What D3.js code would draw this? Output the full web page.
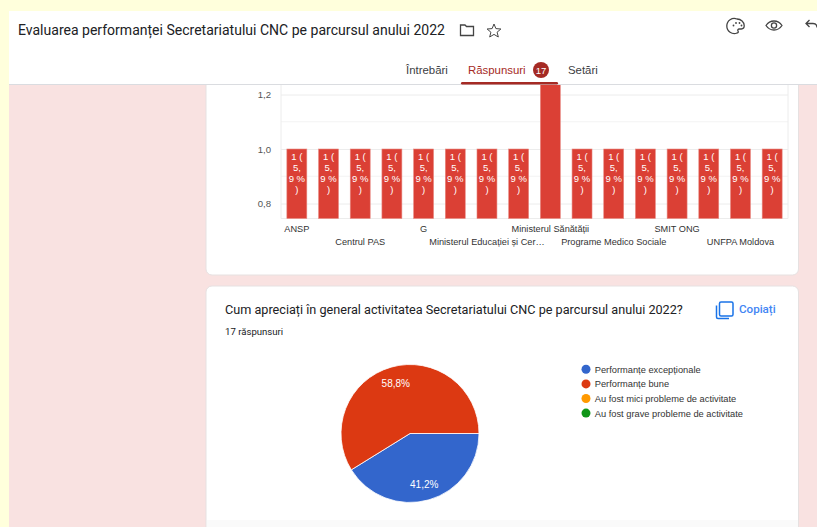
<!DOCTYPE html>
<html>
<head>
<meta charset="utf-8">
<script src="https://cdn.jsdelivr.net/npm/d3@7"></script>
<style>
  html, body { margin: 0; padding: 0; background: #ffffdc; overflow: hidden; }
  svg { display: block; }
  text { font-family: "Liberation Sans", Arial, sans-serif; }
</style>
</head>
<body>
<svg id="chart" width="817" height="527"></svg>
<script>
// bar chart: only every second category label is shown by the chart
const barCategories = ['ANSP', '', 'Centrul PAS', '', 'G', '', 'Ministerul Educației și Cer…', '',
  'Ministerul Sănătății', '', 'Programe Medico Sociale', '', 'SMIT ONG', '', 'UNFPA Moldova', '']
const barValues = [1, 1, 1, 1, 1, 1, 1, 1, 2, 1, 1, 1, 1, 1, 1, 1]
const barLabelLines = ['1 (', '5,', '9 %', ')']
const yTicks = [0.8, 1.0, 1.2]
const yMinorTicks = [0.9, 1.1]

// pie chart
const pieLabels = ['Performanțe excepționale', 'Performanțe bune', 'Au fost mici probleme de activitate', 'Au fost grave probleme de activitate']
const pieValues = [7, 10, 0, 0]
const pieColors = ['#3366cc', '#dc3912', '#ff9900', '#109618']

const svg = d3.select('#chart')

// page background
svg.append('rect').attr('x', 9).attr('y', 11).attr('width', 808).attr('height', 516).attr('fill', '#f9e2e1')

function card(y, h) {
  svg.append('rect')
    .attr('x', 206).attr('y', y).attr('width', 592.5).attr('height', h).attr('rx', 6)
    .attr('fill', '#fff').attr('stroke', '#e6e1e1').attr('stroke-width', 1)
}
card(40, 235)
card(286, 260)
svg.append('rect').attr('x', 207).attr('y', 520).attr('width', 591).attr('height', 7).attr('fill', '#fafafa')

// bars
const x = d3.scaleBand().domain(d3.range(barCategories.length)).range([281, 788]).paddingInner(0.37).paddingOuter(0.185)
const y = d3.scaleLinear().domain([0.8, 1.0]).range([203.5, 149])
const baseY = 218.5

const barChart = svg.append('g')

barChart.append('g').selectAll('line')
  .data(yMinorTicks)
  .join('line')
  .attr('x1', 281).attr('x2', 788)
  .attr('y1', d => y(d)).attr('y2', d => y(d))
  .attr('stroke', '#f3f3f3')

const yAxis = barChart.append('g')
  .attr('transform', 'translate(281,0)')
  .call(d3.axisLeft(y).tickValues(yTicks).tickSize(-507).tickPadding(10).tickFormat(d => d3.format('.1f')(d).replace('.', ',')))
yAxis.select('.domain').remove()
yAxis.selectAll('line').attr('stroke', '#ececec')
yAxis.selectAll('text').attr('font-size', 9.6).attr('fill', '#555').style('font-family', '"Liberation Sans", Arial, sans-serif')

barChart.append('line').attr('x1', 281).attr('x2', 281).attr('y1', 85).attr('y2', baseY).attr('stroke', '#ececec')
barChart.append('line').attr('x1', 788).attr('x2', 788).attr('y1', 85).attr('y2', baseY).attr('stroke', '#ececec')
barChart.append('line').attr('x1', 281).attr('x2', 788).attr('y1', baseY).attr('y2', baseY).attr('stroke', '#ececec')

barChart.append('g').selectAll('rect')
  .data(barValues)
  .join('rect')
  .attr('x', (d, i) => x(i))
  .attr('width', x.bandwidth())
  .attr('y', d => Math.max(y(d), 80))
  .attr('height', d => baseY - Math.max(y(d), 80))
  .attr('fill', '#db4035')
  .attr('stroke', '#e88a83')
  .attr('stroke-width', 0.6)

barValues.forEach((v, i) => {
  if (v !== 1) return
  barChart.append('g').selectAll('text')
    .data(barLabelLines)
    .join('text')
    .attr('x', x(i) + x.bandwidth() / 2)
    .attr('y', (d, k) => y(v) + 10.5 + k * 11)
    .attr('text-anchor', 'middle')
    .attr('font-size', 9.5)
    .attr('fill', '#fff')
    .text(d => d)
})

const xAxis = barChart.append('g')
  .attr('transform', `translate(0,${baseY})`)
  .call(d3.axisBottom(x).tickSize(0).tickFormat(i => barCategories[i]))
xAxis.select('.domain').remove()
xAxis.selectAll('text')
  .attr('y', (d, i) => i % 4 === 0 ? 13 : 26)
  .attr('dy', 0)
  .attr('font-size', 9.2)
  .attr('fill', '#333')
  .style('font-family', '"Liberation Sans", Arial, sans-serif')

// pie
const pie = d3.pie().sort(null).startAngle(Math.PI / 2).endAngle(Math.PI * 2.5)
const arc = d3.arc().innerRadius(0).outerRadius(69)
const labelArc = d3.arc().innerRadius(52).outerRadius(52)
const pieG = svg.append('g').attr('transform', 'translate(410,433.5)')
const slices = pie(pieValues).filter(d => d.value > 0)

pieG.selectAll('path')
  .data(slices)
  .join('path')
  .attr('d', arc)
  .attr('fill', d => pieColors[d.index])
  .attr('stroke', '#fff')
  .attr('stroke-width', 0.8)

pieG.selectAll('text')
  .data(slices)
  .join('text')
  .attr('transform', d => `translate(${labelArc.centroid(d)})`)
  .attr('dy', '0.4em')
  .attr('text-anchor', 'middle')
  .attr('font-size', 10)
  .attr('fill', '#fff')
  .text(d => d3.format('.1f')(d.value / d3.sum(pieValues) * 100).replace('.', ',') + '%')

const legend = svg.append('g').selectAll('g')
  .data(pieLabels)
  .join('g')
  .attr('transform', (d, i) => `translate(586,${369.3 + i * 14.6})`)
legend.append('circle').attr('r', 4.5).attr('fill', (d, i) => pieColors[i])
legend.append('text').attr('x', 8.7).attr('y', 3.4).attr('font-size', 9.3).attr('fill', '#333').text(d => d)

// question text
svg.append('text').attr('x', 225).attr('y', 314).attr('font-size', 12.65).attr('fill', '#202124')
  .style('font-family', 'Roboto').text('Cum apreciați în general activitatea Secretariatului CNC pe parcursul anului 2022?')
svg.append('text').attr('x', 225).attr('y', 335).attr('font-size', 9.6).attr('fill', '#202124')
  .style('font-family', 'Roboto').text('17 răspunsuri')
svg.append('text').attr('x', 739).attr('y', 313).attr('font-size', 11.6).attr('font-weight', 500).attr('fill', '#4285f4')
  .style('font-family', 'Roboto').text('Copiați')
svg.append('path')
  .attr('d', 'M721 302h10.5a1.5 1.5 0 0 1 1.5 1.5v11a1.5 1.5 0 0 1-1.5 1.5H721a1.5 1.5 0 0 1-1.5-1.5v-11A1.5 1.5 0 0 1 721 302zM716.5 305.5v11.5a1.5 1.5 0 0 0 1.5 1.5h11')
  .attr('fill', 'none').attr('stroke', '#1a73e8').attr('stroke-width', 1.5)

// header on top of the scrolled bar chart
svg.append('rect').attr('x', 9).attr('y', 11).attr('width', 808).attr('height', 73).attr('fill', '#fff')
svg.append('line').attr('x1', 9).attr('x2', 817).attr('y1', 84.5).attr('y2', 84.5).attr('stroke', '#dadce0')
svg.append('text').attr('x', 18).attr('y', 35).attr('font-size', 15).attr('fill', '#202124')
  .attr('textLength', 427).attr('lengthAdjust', 'spacingAndGlyphs')
  .style('font-family', 'Roboto').text('Evaluarea performanței Secretariatului CNC pe parcursul anului 2022')

// folder, star, palette, eye, undo
const icons = svg.append('g').attr('fill', 'none').attr('stroke', '#444').attr('stroke-width', 1.3)
icons.append('path').attr('d', 'M460.5 25h4.5l1.5 1.5h7v9h-13z')
icons.append('path').attr('d', 'M494 24l1.9 4.6 5 .4-3.8 3.2 1.2 4.8-4.3-2.6-4.3 2.6 1.2-4.8-3.8-3.2 5-.4z').attr('stroke-width', 1)
icons.append('path').attr('d', 'M737 19a7.5 7.5 0 1 0 0 14c1.5 0 1.5-1.2 1-2-.6-1 0-2 1.2-2h2a3.3 3.3 0 0 0 3-3.5c0-3.6-3.2-6.5-7.2-6.5z')
icons.selectAll('circle.dot').data([[733.5, 25.5], [736, 23], [739.5, 23], [741.5, 25.5]]).join('circle')
  .attr('class', 'dot').attr('cx', d => d[0]).attr('cy', d => d[1]).attr('r', 0.9).attr('fill', '#444').attr('stroke', 'none')
icons.append('path').attr('d', 'M766 25.5c2-3 5-4.5 8-4.5s6 1.5 8 4.5c-2 3-5 4.5-8 4.5s-6-1.5-8-4.5z')
icons.append('circle').attr('cx', 774).attr('cy', 25.5).attr('r', 2.6)
icons.append('path').attr('d', 'M809.5 20l-3.5 3.5 3.5 3.5M806.5 23.5h6.5c2.5 0 4 1.5 4 4')

// tabs
const tabs = svg.append('g').style('font-family', 'Roboto').attr('font-size', 11.4).attr('font-weight', 500)
tabs.append('text').attr('x', 406).attr('y', 74).attr('fill', '#3c4043').text('Întrebări')
tabs.append('text').attr('x', 468).attr('y', 74).attr('fill', '#a52a24').text('Răspunsuri')
tabs.append('circle').attr('cx', 541).attr('cy', 70).attr('r', 8).attr('fill', '#a52a24')
tabs.append('text').attr('x', 541).attr('y', 73.5).attr('text-anchor', 'middle').attr('font-size', 9.5).attr('fill', '#fff').text('17')
tabs.append('text').attr('x', 568).attr('y', 74).attr('fill', '#3c4043').text('Setări')
svg.append('rect').attr('x', 461).attr('y', 82).attr('width', 97).attr('height', 2.5).attr('rx', 1.2).attr('fill', '#a52a24')
</script>
</body>
</html>
